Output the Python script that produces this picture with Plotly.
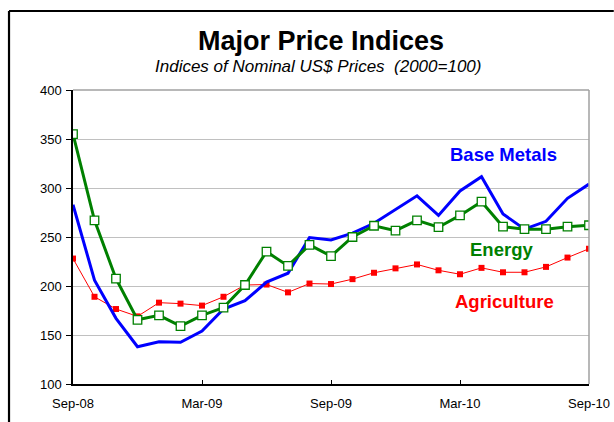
import plotly.graph_objects as go

months = ["Sep-08", "Oct-08", "Nov-08", "Dec-08", "Jan-09", "Feb-09", "Mar-09",
          "Apr-09", "May-09", "Jun-09", "Jul-09", "Aug-09", "Sep-09", "Oct-09",
          "Nov-09", "Dec-09", "Jan-10", "Feb-10", "Mar-10", "Apr-10", "May-10",
          "Jun-10", "Jul-10", "Aug-10", "Sep-10"]

base_metals = [283, 206, 167, 138, 143, 142.5, 154, 176.5, 185, 204, 213, 249.5,
               247, 254, 264, 278, 292, 272, 297, 311.5, 273.5, 258, 266, 289.5, 304]
energy = [355, 267, 207.5, 165.5, 170, 159, 170, 178, 201, 235, 220.5, 242,
          230.5, 250, 261.5, 256.5, 267, 260, 272, 286, 260.5, 258, 258, 260.5, 262]
agriculture = [228, 189, 176.5, 169, 183, 182, 180, 189, 201, 201.5, 193.5, 202.5,
               202, 207, 213.5, 218, 222, 216, 212, 218.5, 214, 214, 219.5, 229, 238]

tick_labels = ["Sep-08", "Mar-09", "Sep-09", "Mar-10", "Sep-10"]
y_ticks = [100, 150, 200, 250, 300, 350, 400]

FONT = "Liberation Sans, Arial, sans-serif"

fig = go.Figure()
fig.add_trace(go.Scatter(x=months, y=agriculture, mode="lines+markers", name="Agriculture",
                         line=dict(color="#ff0000", width=1),
                         marker=dict(symbol="square", size=6, color="#ff0000")))
fig.add_trace(go.Scatter(x=months, y=base_metals, mode="lines", name="Base Metals",
                         line=dict(color="#0000ff", width=3)))
fig.add_trace(go.Scatter(x=months, y=energy, mode="lines+markers", name="Energy",
                         line=dict(color="#008000", width=3),
                         marker=dict(symbol="square", size=8.5, color="white",
                                     line=dict(color="#008000", width=1.3))))

fig.update_layout(
    width=614, height=422, autosize=False,
    margin=dict(l=73, r=25, t=90, b=38),
    paper_bgcolor="white", plot_bgcolor="white",
    showlegend=False,
    font=dict(family=FONT, size=13, color="black"),
    xaxis=dict(type="category", categoryorder="array", categoryarray=months,
               range=[0, 24], tickvals=tick_labels, ticktext=tick_labels,
               automargin=False,
               ticks="inside", ticklen=4, tickcolor="black", ticklabelstandoff=7,
               showline=True, linecolor="black", linewidth=1.5,
               showgrid=False, zeroline=False,
               tickfont=dict(family=FONT, size=13, color="black")),
    yaxis=dict(range=[100, 400], tickvals=y_ticks, automargin=False,
               ticks="outside", ticklen=5, tickcolor="black", ticklabelstandoff=2,
               showline=True, linecolor="black", linewidth=1.5,
               showgrid=True, gridcolor="#c0c0c0", gridwidth=1, zeroline=False,
               tickfont=dict(family=FONT, size=13, color="black")),
    shapes=[
        dict(type="line", xref="paper", yref="paper", x0=0, x1=1, y0=1, y1=1,
             line=dict(color="#a0a0a0", width=1.5)),
        dict(type="line", xref="paper", yref="paper", x0=1, x1=1, y0=0, y1=1,
             line=dict(color="#a0a0a0", width=1.5)),
        dict(type="line", xref="paper", yref="paper", x0=-0.124, x1=1.048,
             y0=1.2687, y1=1.2687, line=dict(color="black", width=2.2)),
        dict(type="line", xref="paper", yref="paper", x0=-0.124, x1=-0.124,
             y0=-0.129, y1=1.2687, line=dict(color="black", width=2.2)),
    ],
    annotations=[
        dict(text="<b>Major Price Indices</b>", xref="paper", yref="paper",
             x=0.4806, y=1.168, xanchor="center", yanchor="middle", showarrow=False,
             font=dict(family=FONT, size=27, color="black")),
        dict(text="<i>Indices of Nominal US$ Prices  (2000=100)</i>", xref="paper",
             yref="paper", x=0.4748, y=1.0816, xanchor="center", yanchor="middle",
             showarrow=False, font=dict(family=FONT, size=17, color="black")),
        dict(text="<b>Base Metals</b>", xref="paper", yref="paper", x=0.8347, y=0.779,
             xanchor="center", yanchor="middle", showarrow=False,
             font=dict(family=FONT, size=18.5, color="#0000ff")),
        dict(text="<b>Energy</b>", xref="paper", yref="paper", x=0.8308, y=0.4558,
             xanchor="center", yanchor="middle", showarrow=False,
             font=dict(family=FONT, size=18.5, color="#008000")),
        dict(text="<b>Agriculture</b>", xref="paper", yref="paper", x=0.8372, y=0.28,
             xanchor="center", yanchor="middle", showarrow=False,
             font=dict(family=FONT, size=18.5, color="#ff0000")),
    ],
)

fig.write_html("out.html",
               config={"displayModeBar": False, "responsive": False},
               post_script="document.body.style.margin='0';")
